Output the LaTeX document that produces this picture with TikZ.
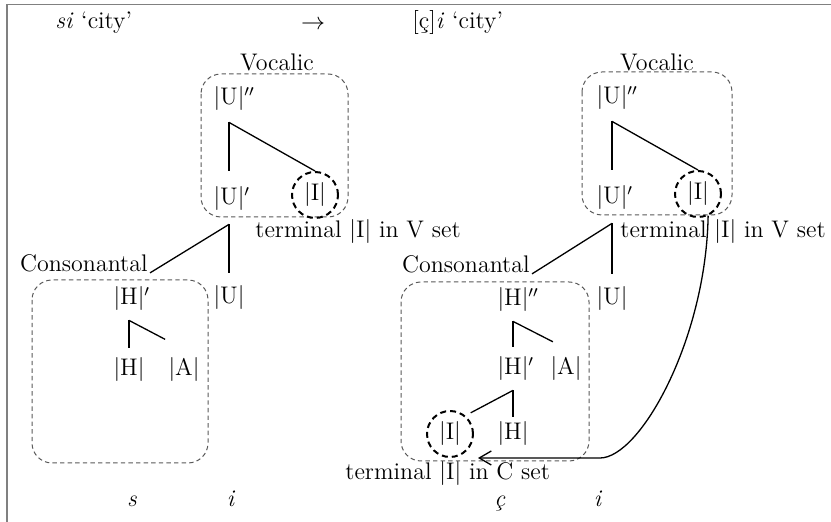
\documentclass[tikz,border=0pt]{standalone}
\usepackage{amsmath}
\usepackage{tikz}
\usetikzlibrary{arrows.meta,calc}

\begin{document}
\begin{tikzpicture}[x=0.5pt,y=-0.5pt,
  every node/.style={font=\fontsize{12}{14}\selectfont, inner sep=0pt},
  branch/.style={line width=0.65pt},
  setbox/.style={draw=black!65, line width=0.5pt, dash pattern=on 2.2pt off 1.6pt, rounded corners=10pt},
  term/.style={circle, draw, line width=1pt, dash pattern=on 3pt off 2pt, minimum size=23pt},
  frame/.style={draw=black!50, line width=0.8pt}]
\useasboundingbox (0,0) rectangle (831,522);
\draw[frame] (831,4.5) -- (7,4.5) -- (7,522);
%%%%%%%%%%%%%%%%
\node[anchor=base west] (hl) at (55,29) {\textit{si} `city'};
\node (goes) at (313,25) {$\rightarrow$};
\node[anchor=base west] (hr) at (412,29) {[ç]\textit{i} `city'};
%%%%%%%%%%%%%%%% left: vocalic
\draw[setbox] (201,74) rectangle (348,217);
\node (vocl) at (277,62) {Vocalic};
\node (uvpl) at (229,99) {$|\mathrm{U}|\rlap{$''$}$};
\node (uvl) at (229,199) {$|\mathrm{U}|\rlap{$'$}$};
\node[term] (ivl) at (315,195) {$|\mathrm{I}|$};
\node[anchor=west] (tvl) at (255,232) {terminal $|\mathrm{I}|$ in V set};
\draw[branch] ([yshift=-5.5pt]uvpl.south) -- ([yshift=8pt]uvl.north);
\draw[branch] ([yshift=-5.5pt]uvpl.south) -- (ivl.north);
%%%%%%%%%%%%%%%% left: consonantal
\draw[setbox] (32,280) rectangle (208,463);
\node[anchor=base east] (ccl) at (148,272) {Consonantal};
\node (ul) at (229,298) {$|\mathrm{U}|$};
\node (hpl) at (129,299) {$|\mathrm{H}|\rlap{$'$}$};
\node (hl0) at (129,370) {$|\mathrm{H}|$};
\node (al) at (184,370) {$|\mathrm{A}|$};
\draw[branch] ([yshift=-6.5pt]uvl.south) -- ([yshift=6.5pt]ul.north);
\draw[branch] ([yshift=-6.5pt]uvl.south) -- ([xshift=1pt]ccl.south east);
\draw[branch] ([yshift=-4.5pt]hpl.south) -- ([yshift=5pt]hl0.north);
\draw[branch] ([yshift=-4.5pt]hpl.south) -- ($([yshift=-4.5pt]hpl.south)!0.51!(al.north east)$);
\node[anchor=base] (sl) at (132,507) {\textit{s}};
\node[anchor=base] (il) at (231,507) {\textit{i}};
%%%%%%%%%%%%%%%% right: vocalic
\draw[setbox] (582,72) rectangle (732,215);
\node (vocr) at (657,62) {Vocalic};
\node (uvpr) at (612,98) {$|\mathrm{U}|\rlap{$''$}$};
\node (uvr) at (612,198) {$|\mathrm{U}|\rlap{$'$}$};
\node[term] (ivr) at (698,194) {$|\mathrm{I}|$};
\node[anchor=west] (tvr) at (620,232) {terminal $|\mathrm{I}|$ in V set};
\draw[branch] ([yshift=-5.5pt]uvpr.south) -- ([yshift=8pt]uvr.north);
\draw[branch] ([yshift=-5.5pt]uvpr.south) -- (ivr.north);
%%%%%%%%%%%%%%%% right: consonantal
\draw[setbox] (401,282) rectangle (589,461);
\node[anchor=base east] (ccr) at (530,273) {Consonantal};
\node (ur) at (612,299) {$|\mathrm{U}|$};
\node (hppr) at (513,300) {$|\mathrm{H}|\rlap{$''$}$};
\node (hpr) at (513,369) {$|\mathrm{H}|\rlap{$'$}$};
\node (ar) at (566,369) {$|\mathrm{A}|$};
\node (hr0) at (513,434) {$|\mathrm{H}|$};
\node[term] (ivc) at (450,434) {$|\mathrm{I}|$};
\node[anchor=west] (tcr) at (345,474) {terminal $|\mathrm{I}|$ in C set};
\draw[branch] ([yshift=-6.5pt]uvr.south) -- ([yshift=6.5pt]ur.north);
\draw[branch] ([yshift=-6.5pt]uvr.south) -- ([xshift=1pt]ccr.south east);
\draw[branch] ([yshift=-4.5pt]hppr.south) -- ([yshift=5pt]hpr.north);
\draw[branch] ([yshift=-4.5pt]hppr.south) -- ($([yshift=-4.5pt]hppr.south)!0.58!(ar.north east)$);
\draw[branch] ([yshift=-4.5pt]hpr.south) -- ([yshift=2.5pt]hr0.north);
\draw[branch, shorten >=3pt] ([yshift=-4.5pt]hpr.south) -- (ivc.50);
\node[anchor=base] (cr) at (500,507) {\textit{ç}};
\node[anchor=base] (ir) at (598,507) {\textit{i}};
%%%%%%%%%%%%%%%% spreading
\draw[branch, -{Straight Barb[length=6pt,width=7pt]}] (ivr.-65) .. controls (706,340) and (640,458) .. (600,458) -- ([xshift=2pt,yshift=-12pt]ivc.east);
\end{tikzpicture}
\end{document}
